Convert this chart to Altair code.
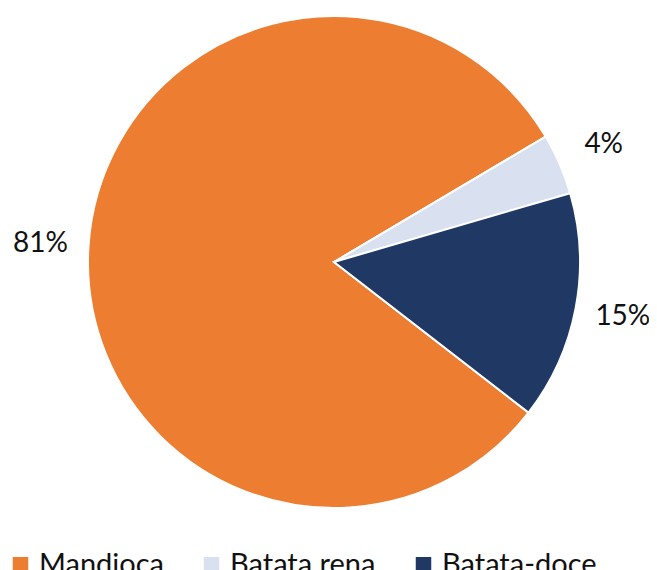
import altair as alt
import pandas as pd

categories = ["Mandioca", "Batata rena", "Batata-doce"]
values = [81, 4, 15]
labels = ["81%", "4%", "15%"]
colors = ["#ED7D31", "#D9E1F0", "#1F3864"]

df = pd.DataFrame({"cat": categories, "val": values, "lab": labels, "ord": [0, 1, 2]})

start = 2.2297  # radians, clockwise from 12 o'clock
theta = alt.Theta("val:Q", stack=True, scale=alt.Scale(range=[start, start + 6.283185307]))
order = alt.Order("ord:Q")

base = alt.Chart(df)

pie = base.mark_arc(outerRadius=246, stroke="white", strokeWidth=2).encode(
    theta=theta,
    order=order,
    x=alt.value(326),
    y=alt.value(254),
    color=alt.Color(
        "cat:N",
        scale=alt.Scale(domain=categories, range=colors),
        sort=categories,
        legend=alt.Legend(
            title=None,
            orient="none",
            direction="horizontal",
            legendX=-2,
            legendY=542,
            symbolType="square",
            symbolSize=240,
            symbolStrokeWidth=0,
            labelFont="Lato",
            labelFontSize=29,
            labelColor="#111111",
            labelOffset=4,
            columnPadding=33,
            padding=0,
            labelLimit=400,
        ),
    ),
)

text = base.mark_text(radius=294, font="Lato", fontSize=28, color="#111111").encode(
    theta=theta,
    order=order,
    x=alt.value(326),
    y=alt.value(254),
    text="lab:N",
)

chart = (
    alt.layer(pie, text)
    .properties(width=641, height=600, padding=0, autosize=alt.AutoSizeParams(type="none"))
    .configure_view(stroke=None)
)

chart.save("out.html", embed_options={"renderer": "svg", "actions": False})
